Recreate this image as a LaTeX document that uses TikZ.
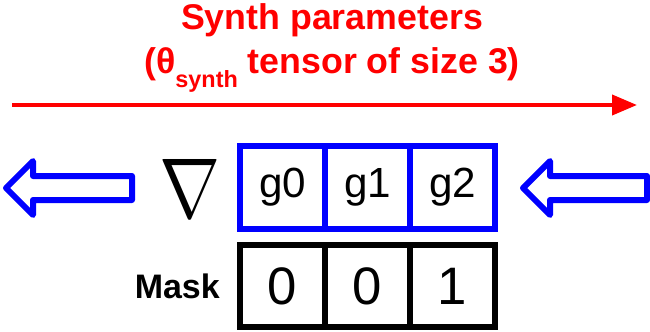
\documentclass[tikz,border=0pt]{standalone}
\usepackage{fontspec}
\usepackage{graphicx}
\setmainfont{Liberation Sans}
\usetikzlibrary{positioning,arrows.meta}
\definecolor{synthred}{RGB}{255,0,0}
\definecolor{gradblue}{RGB}{0,0,255}

\begin{document}
\begin{tikzpicture}[
    x=0.03cm, y=-0.03cm,
    node distance=0.48cm and 0cm,
    gcell/.style={draw=gradblue, line width=0.18cm, outer sep=0pt, inner sep=0pt, minimum width=2.55cm, minimum height=2.49cm, font=\fontsize{36}{36}\selectfont},
    mcell/.style={draw=black, line width=0.18cm, outer sep=0pt, inner sep=0pt, minimum width=2.55cm, minimum height=2.46cm, font=\fontsize{45}{45}\selectfont},
    hollow/.style={draw=gradblue, line width=0.18cm, line join=round},
    arrow/.style={-{Triangle[length=0.75cm, width=0.6cm]}, line width=0.12cm, draw=synthred}
]
    \useasboundingbox (0,0) rectangle (650,331);

    % title and parameter direction
    \node[text=synthred, align=center, font=\fontsize{30.5}{37.6}\selectfont\bfseries] (params) at (332,48)
        {Synth parameters\\(θ\raisebox{-0.38em}{\fontsize{20}{20}\selectfont synth} tensor of size 3)};
    \coordinate (pstart) at (12,105);
    \coordinate (pend) at (637,105);
    \draw[arrow] (pstart) -- (pend);

    % gradient row
    \node[gcell] (g0) at (282.5,187.5) {g0};
    \node[gcell, right=of g0] (g1) {g1};
    \node[gcell, right=of g1] (g2) {g2};
    \node (nabla) at (190,188) {\scalebox{6.25}[7.25]{$\nabla$}};

    % mask row
    \node[mcell, below=of g0] (m0) {0};
    \node[mcell, right=of m0] (m1) {0};
    \node[mcell, right=of m1] (m2) {1};
    \node[inner sep=0pt, left=0.6cm of m0, font=\fontsize{29}{29}\selectfont\bfseries] (masklabel) {Mask};

    % backward arrows
    \draw[hollow] (6,188) -- (33,161) -- (33,176) -- (132,176) -- (132,200) -- (33,200) -- (33,215) -- cycle;
    \draw[hollow] (523,188) -- (550,161) -- (550,176) -- (647,176) -- (647,200) -- (550,200) -- (550,215) -- cycle;
\end{tikzpicture}
\end{document}
